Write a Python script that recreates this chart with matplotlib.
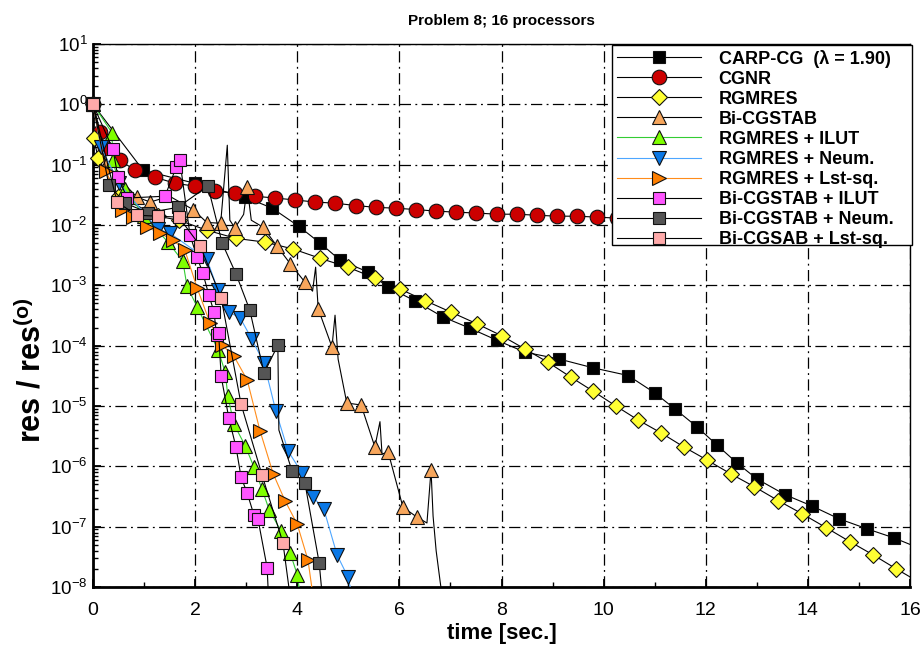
import matplotlib
matplotlib.use("Agg")
import matplotlib.pyplot as plt
from matplotlib.lines import Line2D
from matplotlib.patches import Rectangle
from matplotlib.ticker import FixedLocator, LogLocator, NullFormatter

plt.rcParams['font.family'] = ['Liberation Sans', 'DejaVu Sans']
plt.rcParams['mathtext.fontset'] = 'custom'
plt.rcParams['mathtext.rm'] = 'Liberation Sans'
plt.rcParams['mathtext.bf'] = 'Liberation Sans:bold'
plt.rcParams['mathtext.default'] = 'regular'

# ---------------- data (time [s], res/res0) ----------------
carp_t = [0.0, 0.98, 2.0, 2.98, 3.51, 4.03, 4.45, 4.84, 5.39, 5.78, 6.31, 6.85, 7.38, 7.91,
          8.46, 9.13, 9.79, 10.48, 11.0, 11.4, 11.83, 12.22, 12.61, 13.0, 13.55, 14.08,
          14.61, 15.16, 15.69]
carp_r = [1.0, 0.081, 0.049, 0.029, 0.019, 0.0095, 0.005, 0.0026, 0.00166, 9.3e-4, 5.5e-4,
          3.0e-4, 1.95e-4, 1.23e-4, 7.8e-5, 6.0e-5, 4.3e-5, 3.2e-5, 1.65e-5, 8.9e-6, 4.5e-6,
          2.25e-6, 1.14e-6, 6.2e-7, 3.4e-7, 2.2e-7, 1.35e-7, 9.2e-8, 6.5e-8]
carp_xt = [16.3]
carp_xr = [4.0e-8]

cgnr_t = [0.0, 0.14, 0.24, 0.53, 0.82, 1.21, 1.61, 2.0, 2.39, 2.78, 3.17, 3.56, 3.96, 4.35,
          4.74, 5.15, 5.54, 5.93, 6.33, 6.72, 7.11, 7.50, 7.91, 8.30, 8.70, 9.09, 9.48, 9.87,
          10.26]
cgnr_r = [1.0, 0.35, 0.19, 0.118, 0.081, 0.062, 0.049, 0.044, 0.036, 0.034, 0.030, 0.028,
          0.026, 0.024, 0.023, 0.021, 0.0196, 0.019, 0.018, 0.017, 0.0163, 0.0158, 0.0151,
          0.0151, 0.0145, 0.014, 0.014, 0.0135, 0.013]
cgnr_xt = []
cgnr_xr = []

rgm_t = [0.0, 0.01, 0.1, 0.5, 1.27, 1.68, 2.23, 2.80, 3.37, 3.92, 4.45, 4.99, 5.52, 6.01,
         6.50, 7.01, 7.52, 8.01, 8.46, 8.91, 9.36, 9.79, 10.24, 10.67, 11.12, 11.57, 12.02,
         12.49, 12.95, 13.42, 13.89, 14.36, 14.83, 15.28, 15.73]
rgm_r = [1.0, 0.28, 0.13, 0.03, 0.014, 0.012, 0.0082, 0.0060, 0.0052, 0.0040, 0.0028,
         0.0020, 0.00132, 8.7e-4, 5.6e-4, 3.6e-4, 2.3e-4, 1.45e-4, 8.8e-5, 5.3e-5, 3.0e-5,
         1.77e-5, 1.0e-5, 5.9e-6, 3.6e-6, 2.1e-6, 1.28e-6, 7.5e-7, 4.6e-7, 2.7e-7, 1.63e-7,
         9.6e-8, 5.6e-8, 3.4e-8, 2.0e-8]
rgm_xt = [16.2]
rgm_xr = [1.17e-8]

bicg_t = [0.0, 0.25, 0.86, 1.12, 1.96, 2.23, 2.50, 2.78, 3.02, 3.33, 3.60, 3.86, 4.15, 4.41,
          4.68, 4.97, 5.25, 5.52, 5.78, 6.07, 6.34, 6.62]
bicg_r = [1.0, 0.1, 0.029, 0.024, 0.018, 0.011, 0.0107, 0.0089, 0.042, 0.0092, 0.0045,
          0.0023, 0.00113, 4.1e-4, 9.5e-5, 1.12e-5, 1.04e-5, 2.1e-6, 1.73e-6, 2.1e-7,
          1.45e-7, 8.7e-7]
bicg_xt = [1.5, 2.63, 2.68, 2.95, 3.10, 4.30, 4.36, 4.74, 4.80, 5.62, 5.66, 6.54, 6.66,
           6.72, 6.80, 6.88]
bicg_xr = [0.03, 0.21, 0.012, 0.015, 0.012, 8.0e-4, 2.0e-3, 3.2e-4, 6.0e-5, 5.5e-6, 1.6e-6,
           1.15e-7, 1.5e-7, 4.0e-8, 1.2e-8, 4.0e-9]

ilut_t = [0.0, 0.37, 0.39, 0.47, 0.63, 1.0, 1.47, 1.76, 1.84, 2.04, 2.45, 2.59, 2.64, 2.76,
          2.98, 3.15, 3.31, 3.45, 3.68, 3.86, 4.0]
ilut_r = [1.0, 0.34, 0.118, 0.063, 0.04, 0.014, 0.0052, 0.0025, 9.7e-4, 4.4e-4, 8.5e-5,
          3.6e-5, 1.47e-5, 5.0e-6, 2.2e-6, 9.8e-7, 4.2e-7, 1.9e-7, 8.5e-8, 3.7e-8, 1.6e-8]
ilut_xt = [4.06]
ilut_xr = [7.0e-9]

neum_t = [0.0, 0.15, 0.5, 1.27, 1.51, 2.23, 2.45, 2.66, 2.88, 3.11, 3.35, 3.58, 3.82, 4.09,
          4.31, 4.52, 4.78, 4.99]
neum_r = [1.0, 0.2, 0.05, 0.0085, 0.0073, 0.0027, 8.3e-4, 3.6e-4, 2.9e-4, 1.29e-4, 5.1e-5,
          8.3e-6, 1.8e-6, 7.8e-7, 3.1e-7, 1.96e-7, 3.4e-8, 1.48e-8]
neum_xt = [5.08]
neum_xr = [7.0e-9]

lsq_t = [0.0, 0.25, 0.57, 0.78, 1.06, 1.31, 1.57, 1.80, 2.04, 2.29, 2.53, 2.76, 3.02, 3.27,
         3.53, 3.76, 4.0, 4.21]
lsq_r = [1.0, 0.08, 0.0177, 0.0135, 0.0092, 0.0073, 0.0056, 0.0038, 9.0e-4, 2.4e-4,
         1.02e-4, 6.7e-5, 2.7e-5, 3.9e-6, 7.5e-7, 2.7e-7, 1.1e-7, 2.8e-8]
lsq_xt = [4.31]
lsq_xr = [7.0e-9]

bilut_t = [0.0, 0.39, 0.49, 0.67, 1.41, 1.63, 1.70, 1.90, 2.04, 2.15, 2.27, 2.37, 2.42,
           2.46, 2.51, 2.66, 2.80, 2.90, 3.02, 3.15, 3.23, 3.41]
bilut_r = [1.0, 0.18, 0.062, 0.028, 0.030, 0.091, 0.118, 0.0068, 0.0029, 0.0016, 6.9e-4,
           3.6e-4, 1.5e-4, 1.6e-4, 3.1e-5, 6.3e-6, 2.1e-6, 6.6e-7, 3.6e-7, 1.58e-7,
           1.35e-7, 2.1e-8]
bilut_xt = [3.44]
bilut_xr = [6.0e-9]

bneum_t = [0.0, 0.31, 0.63, 1.08, 1.66, 2.25, 2.53, 2.80, 3.07, 3.35, 3.62, 3.90, 4.15, 4.43]
bneum_r = [1.0, 0.046, 0.023, 0.016, 0.0196, 0.044, 0.005, 0.00155, 3.9e-4, 3.5e-5,
           1.02e-4, 8.3e-7, 5.3e-7, 2.5e-8]
bneum_xt = [3.64, 4.49]
bneum_xr = [4.0e-6, 7.0e-9]

blsq_t = [0.0, 0.47, 0.86, 1.27, 1.68, 2.10, 2.51, 2.90, 3.31, 3.72]
blsq_r = [1.0, 0.024, 0.0145, 0.014, 0.0135, 0.0045, 6.2e-4, 1.07e-5, 7.2e-7, 5.4e-8]
blsq_xt = [3.86]
blsq_xr = [7.0e-9]

labels = ['CARP-CG  (\u03bb = 1.90)', 'CGNR', 'RGMRES', 'Bi-CGSTAB', 'RGMRES + ILUT',
          'RGMRES + Neum.', 'RGMRES + Lst-sq.', 'Bi-CGSTAB + ILUT', 'Bi-CGSTAB + Neum.',
          'Bi-CGSAB + Lst-sq.']

x_ticks = [0, 2, 4, 6, 8, 10, 12, 14, 16]

# ---------------- styles ----------------
styles = [
    dict(marker='s', mfc='#000000', lc='#000000', ms=9.0),
    dict(marker='o', mfc='#cc0000', lc='#000000', ms=10.5),
    dict(marker='D', mfc='#ffff33', lc='#000000', ms=8.0),
    dict(marker='^', mfc='#f7a65c', lc='#000000', ms=10.0),
    dict(marker='^', mfc='#7fff00', lc='#33cc33', ms=10.0),
    dict(marker='v', mfc='#0a78e6', lc='#4da6ff', ms=10.0),
    dict(marker='>', mfc='#ff7f00', lc='#ff8c1a', ms=10.0),
    dict(marker='s', mfc='#ff55ff', lc='#000000', ms=9.0),
    dict(marker='s', mfc='#555555', lc='#000000', ms=9.0),
    dict(marker='s', mfc='#ffaaaa', lc='#000000', ms=9.0),
]

data = [
    (carp_t, carp_r, carp_xt, carp_xr),
    (cgnr_t, cgnr_r, cgnr_xt, cgnr_xr),
    (rgm_t, rgm_r, rgm_xt, rgm_xr),
    (bicg_t, bicg_r, bicg_xt, bicg_xr),
    (ilut_t, ilut_r, ilut_xt, ilut_xr),
    (neum_t, neum_r, neum_xt, neum_xr),
    (lsq_t, lsq_r, lsq_xt, lsq_xr),
    (bilut_t, bilut_r, bilut_xt, bilut_xr),
    (bneum_t, bneum_r, bneum_xt, bneum_xr),
    (blsq_t, blsq_r, blsq_xt, blsq_xr),
]

W, H = 924, 650
fig = plt.figure(figsize=(W / 100, H / 100), dpi=100)
ax = fig.add_axes([93 / W, 1 - 587 / H, (910 - 93) / W, (587 - 44) / H])

for (t, r, xt, xr), st in zip(data, styles):
    pts = sorted(zip(list(t) + list(xt), list(r) + list(xr)), key=lambda p: p[0])
    lt = [p[0] for p in pts]
    lr = [p[1] for p in pts]
    ax.plot(lt, lr, color=st['lc'], lw=0.8, zorder=3)
    ax.plot(t, r, ls='none', marker=st['marker'], ms=st['ms'], mfc=st['mfc'],
            mec='#111111', mew=0.8, zorder=3, clip_on=False)

ax.set_yscale('log')
ax.set_xlim(0, 16)
ax.set_ylim(1e-8, 10)
ax.xaxis.set_major_locator(FixedLocator(x_ticks))
ax.xaxis.set_minor_locator(FixedLocator(list(range(1, 16, 2))))
ax.yaxis.set_major_locator(LogLocator(base=10, numticks=20))
ax.yaxis.set_minor_locator(LogLocator(base=10, subs=[2, 3, 4, 5, 6, 7, 8, 9], numticks=100))
ax.yaxis.set_minor_formatter(NullFormatter())

ax.set_axisbelow(True)
ax.grid(True, which='major', color='black', lw=0.9, linestyle=(0, (9, 3.5, 1.5, 3.5)))

ax.tick_params(axis='both', which='major', direction='in', length=6, width=1.3,
               top=False, right=False)
ax.tick_params(axis='both', which='minor', direction='in', length=3.5, width=1.0,
               top=False, right=False)
ax.tick_params(axis='x', which='major', labelsize=14, pad=11)
ax.tick_params(axis='y', which='major', labelsize=13.5, pad=4)

for s in ['left', 'bottom']:
    ax.spines[s].set_linewidth(2.0)
for s in ['top', 'right']:
    ax.spines[s].set_linewidth(1.0)

ax.set_xlabel('time [sec.]', fontsize=16, fontweight='bold', labelpad=3)
ax.set_ylabel(r'res / res$^{\mathbf{(o)}}$', fontsize=22, fontweight='bold')
ax.yaxis.set_label_coords(-0.056, 0.40)
ax.set_title('Problem 8; 16 processors', fontsize=11, fontweight='bold', pad=14)

# legend box (white, framed) and entries
box = Rectangle((612 / W, 1 - 245 / H), 300 / W, 200 / H, transform=fig.transFigure,
                facecolor='white', edgecolor='black', lw=1.0, zorder=8)
fig.add_artist(box)

handles = [Line2D([], [], color=st['lc'], lw=0.8, marker=st['marker'], ms=st['ms'],
                  mfc=st['mfc'], mec='#111111', mew=0.8) for st in styles]
leg = fig.legend(handles, labels, loc='upper left',
                 bbox_to_anchor=(612 / W, 1 - 45 / H), borderaxespad=0,
                 prop={'weight': 'bold', 'size': 13}, handlelength=4.7,
                 handletextpad=0.95, labelspacing=0.17, borderpad=0.25,
                 frameon=False)
leg.set_zorder(10)

fig.savefig('out.png', dpi=100)
